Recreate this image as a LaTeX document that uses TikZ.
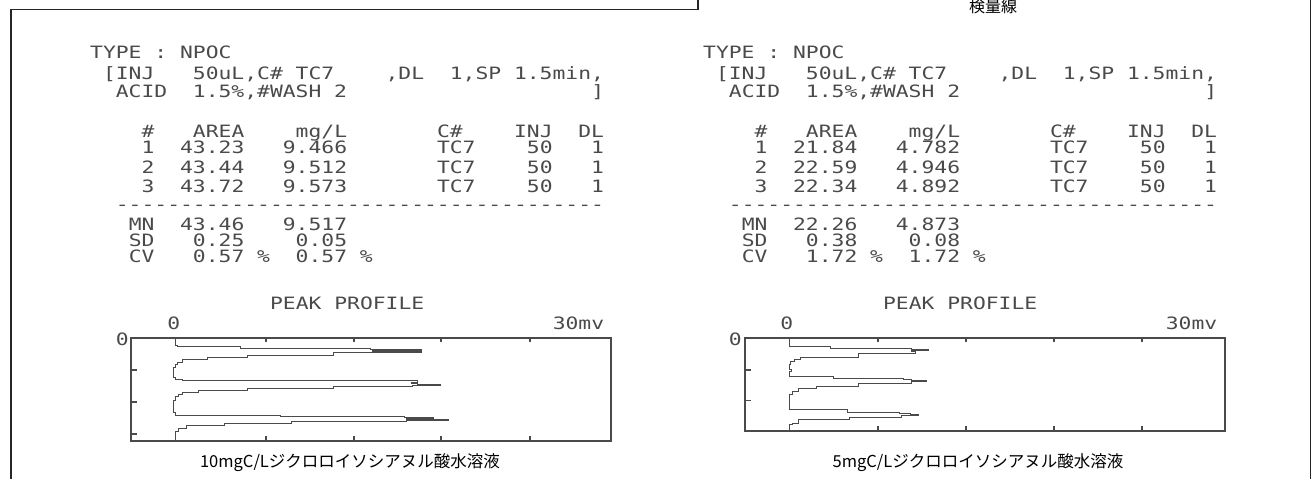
\documentclass[tikz,border=0pt]{standalone}
\usepackage{fontspec}
\newfontfamily\dotfont[FakeStretch=1.255]{DejaVu Sans Mono}
\newfontfamily\jpfont{Noto Sans CJK JP}
\definecolor{prn}{HTML}{4A4A4A}
\tikzset{
  pt/.style={font=\dotfont\fontsize{17}{17}\selectfont, anchor=base west, inner sep=0pt, text=prn},
  frame/.style={line width=1.4pt, black!85},
  plotbox/.style={line width=1.5pt, prn},
  prof/.style={line width=1pt, prn, line join=miter},
  tickm/.style={line width=1.3pt, prn},
  captxt/.style={anchor=base, inner sep=0pt, text=black},
}
\newcommand\blk{\phantom{0}}
\newcommand\hy{-\kern0pt}
\newcommand\hyx{\hy\hy\hy\hy\hy\hy\hy\hy\hy\hy}
\newcommand\ptxt[4]{\node[pt] (#1) at ({\xorg+#2*12.85},#3) {#4};}
\begin{document}
\begin{tikzpicture}[x=1pt,y=-1pt]
\useasboundingbox (0,0) rectangle (1313,479);
% frame
\draw[frame] (11,479) -- (11,9.5) -- (698,9.5) -- (698,0);
\draw[frame] (1310.5,0) -- (1310.5,479);
\node[captxt, font=\jpfont\fontsize{16}{16}\selectfont] (kenryo) at (993,12.5) {検量線};

% ---------- left panel ----------
\def\xorg{90}
\ptxt{Ltype}{0}{58}{TYPE\blk:\blk NPOC}
\ptxt{Linj}{1}{79}{[INJ\blk\blk\blk 50uL,C\#\blk TC7\blk\blk\blk\blk,DL\blk\blk 1,SP\blk 1.5min,}
\ptxt{Lacid}{2}{97}{ACID\blk\blk 1.5\%,\#WASH\blk 2}
\ptxt{Lbr}{39}{97}{]}
\ptxt{Lhead}{4}{137}{\#\blk\blk\blk AREA\blk\blk\blk\blk mg/L\blk\blk\blk\blk\blk\blk\blk C\#\blk\blk\blk\blk INJ\blk\blk DL}
\ptxt{Lr1}{4}{153}{1\blk\blk 43.23\blk\blk\blk 9.466\blk\blk\blk\blk\blk\blk\blk TC7\blk\blk\blk\blk 50\blk\blk\blk 1}
\ptxt{Lr2}{4}{173}{2\blk\blk 43.44\blk\blk\blk 9.512\blk\blk\blk\blk\blk\blk\blk TC7\blk\blk\blk\blk 50\blk\blk\blk 1}
\ptxt{Lr3}{4}{192}{3\blk\blk 43.72\blk\blk\blk 9.573\blk\blk\blk\blk\blk\blk\blk TC7\blk\blk\blk\blk 50\blk\blk\blk 1}
\ptxt{Ldash}{2}{210}{\hyx\hyx\hyx\hy\hy\hy\hy\hy\hy\hy\hy}
\ptxt{Lmn}{3}{230}{MN\blk\blk 43.46\blk\blk\blk 9.517}
\ptxt{Lsd}{3}{246}{SD\blk\blk\blk 0.25\blk\blk\blk\blk 0.05}
\ptxt{Lcv}{3}{262}{CV\blk\blk\blk 0.57\blk\%\blk\blk 0.57\blk\%}
\ptxt{Lpeak}{14}{309}{PEAK\blk PROFILE}
\ptxt{Lx0}{6}{329}{0}
\ptxt{Lx30}{36}{329}{30mv}
\ptxt{Ly0}{2}{345}{0}

\draw[plotbox] (131,338) rectangle (611,441);
\foreach \t in {266,354,441,530} {
  \draw[tickm] (\t,338) -- (\t,342);
  \draw[tickm] (\t,441) -- (\t,436);
}
\foreach \t in {370,402,434} \draw[tickm] (131,\t) -- (137,\t);

\draw[prof] (175,338) -- (175,345.5) -- (177,345.5) -- (177,346.7) -- (240,346.7) -- (240,348.9)
  -- (370,348.9) -- (370,349.8) -- (421,349.8) -- (421,350.7) -- (372,350.7) -- (372,351.6)
  -- (421,351.6) -- (421,352.9) -- (333,352.9) -- (333,355) -- (247,355) -- (247,357.3)
  -- (207,357.3) -- (207,359.7) -- (182,359.7) -- (182,362.4) -- (177,362.4) -- (177,364.5)
  -- (175,364.5) -- (175,367) -- (173.5,367) -- (173.5,377) -- (175,377) -- (175,379.4)
  -- (182,379.4) -- (182,380.4) -- (417,380.4) -- (417,382) -- (411,382) -- (411,383.2)
  -- (417,383.2) -- (417,384.4) -- (440,384.4) -- (440,385.5) -- (412,385.5) -- (412,386.5)
  -- (333,386.5) -- (333,388.2) -- (247,388.2) -- (247,390) -- (198,390) -- (198,392)
  -- (182,392) -- (182,394) -- (178,394) -- (178,396.5) -- (175,396.5) -- (175,400)
  -- (173.5,400) -- (173.5,412) -- (175,412) -- (175,415) -- (280,415) -- (280,416.7)
  -- (404,416.7) -- (404,417.7) -- (433,417.7) -- (433,418.6) -- (406,418.6) -- (406,419.4)
  -- (448,419.4) -- (448,420.5) -- (406,420.5) -- (406,421.7) -- (291,421.7) -- (291,423.4)
  -- (224,423.4) -- (224,425.1) -- (186,425.1) -- (186,428.5) -- (178.5,428.5) -- (178.5,431.9)
  -- (175,431.9) -- (175,441);

\node[captxt, font=\jpfont\fontsize{16.5}{16.5}\selectfont] (Lcap) at (350,467) {10mgC/Lジクロロイソシアヌル酸水溶液};

% ---------- right panel ----------
\def\xorg{703}
\ptxt{Rtype}{0}{58}{TYPE\blk:\blk NPOC}
\ptxt{Rinj}{1}{79}{[INJ\blk\blk\blk 50uL,C\#\blk TC7\blk\blk\blk\blk,DL\blk\blk 1,SP\blk 1.5min,}
\ptxt{Racid}{2}{97}{ACID\blk\blk 1.5\%,\#WASH\blk 2}
\ptxt{Rbr}{39}{97}{]}
\ptxt{Rhead}{4}{137}{\#\blk\blk\blk AREA\blk\blk\blk\blk mg/L\blk\blk\blk\blk\blk\blk\blk C\#\blk\blk\blk\blk INJ\blk\blk DL}
\ptxt{Rr1}{4}{153}{1\blk\blk 21.84\blk\blk\blk 4.782\blk\blk\blk\blk\blk\blk\blk TC7\blk\blk\blk\blk 50\blk\blk\blk 1}
\ptxt{Rr2}{4}{173}{2\blk\blk 22.59\blk\blk\blk 4.946\blk\blk\blk\blk\blk\blk\blk TC7\blk\blk\blk\blk 50\blk\blk\blk 1}
\ptxt{Rr3}{4}{192}{3\blk\blk 22.34\blk\blk\blk 4.892\blk\blk\blk\blk\blk\blk\blk TC7\blk\blk\blk\blk 50\blk\blk\blk 1}
\ptxt{Rdash}{2}{210}{\hyx\hyx\hyx\hy\hy\hy\hy\hy\hy\hy\hy}
\ptxt{Rmn}{3}{230}{MN\blk\blk 22.26\blk\blk\blk 4.873}
\ptxt{Rsd}{3}{246}{SD\blk\blk\blk 0.38\blk\blk\blk\blk 0.08}
\ptxt{Rcv}{3}{262}{CV\blk\blk\blk 1.72\blk\%\blk\blk 1.72\blk\%}
\ptxt{Rpeak}{14}{309}{PEAK\blk PROFILE}
\ptxt{Rx0}{6}{329}{0}
\ptxt{Rx30}{36}{329}{30mv}
\ptxt{Ry0}{2}{345}{0}

\draw[plotbox] (745,338) rectangle (1225,431);
\foreach \t in {878,966,1054,1142} {
  \draw[tickm] (\t,338) -- (\t,342);
  \draw[tickm] (\t,431) -- (\t,426);
}
\foreach \t in {370,400.5} \draw[tickm] (745,\t) -- (751,\t);

\draw[prof] (789,338) -- (789,346.3) -- (830,346.3) -- (830,348) -- (911,348) -- (911,349.8)
  -- (928,349.8) -- (928,350.8) -- (911,350.8) -- (911,351.6) -- (915,351.6) -- (915,353.7)
  -- (858,353.7) -- (858,357.3) -- (800.5,357.3) -- (800.5,359.7) -- (794.6,359.7) -- (794.6,361.3)
  -- (790.7,361.3) -- (790.7,364) -- (789,364) -- (789,369) -- (791,369) -- (791,371.3)
  -- (789,371.3) -- (789,376.3) -- (833.7,376.3) -- (833.7,378) -- (903,378) -- (903,379.3)
  -- (911,379.3) -- (911,380.3) -- (926.6,380.3) -- (926.6,381.3) -- (911,381.3) -- (911,383)
  -- (858,383) -- (858,386.3) -- (816,386.3) -- (816,388) -- (798.6,388) -- (798.6,391.3)
  -- (792.7,391.3) -- (792.7,394) -- (789,394) -- (789,409.7) -- (847.4,409.7) -- (847.4,412)
  -- (899,412) -- (899,413) -- (910,413) -- (910,414) -- (918.7,414) -- (918.7,415.3)
  -- (901,415.3) -- (901,417.3) -- (849.4,417.3) -- (849.4,419.7) -- (798.6,419.7) -- (798.6,423)
  -- (792.7,423) -- (792.7,424.7) -- (789,424.7) -- (789,431);

\node[captxt, font=\jpfont\fontsize{16.5}{16.5}\selectfont] (Rcap) at (978,467) {5mgC/Lジクロロイソシアヌル酸水溶液};
\end{tikzpicture}
\end{document}
